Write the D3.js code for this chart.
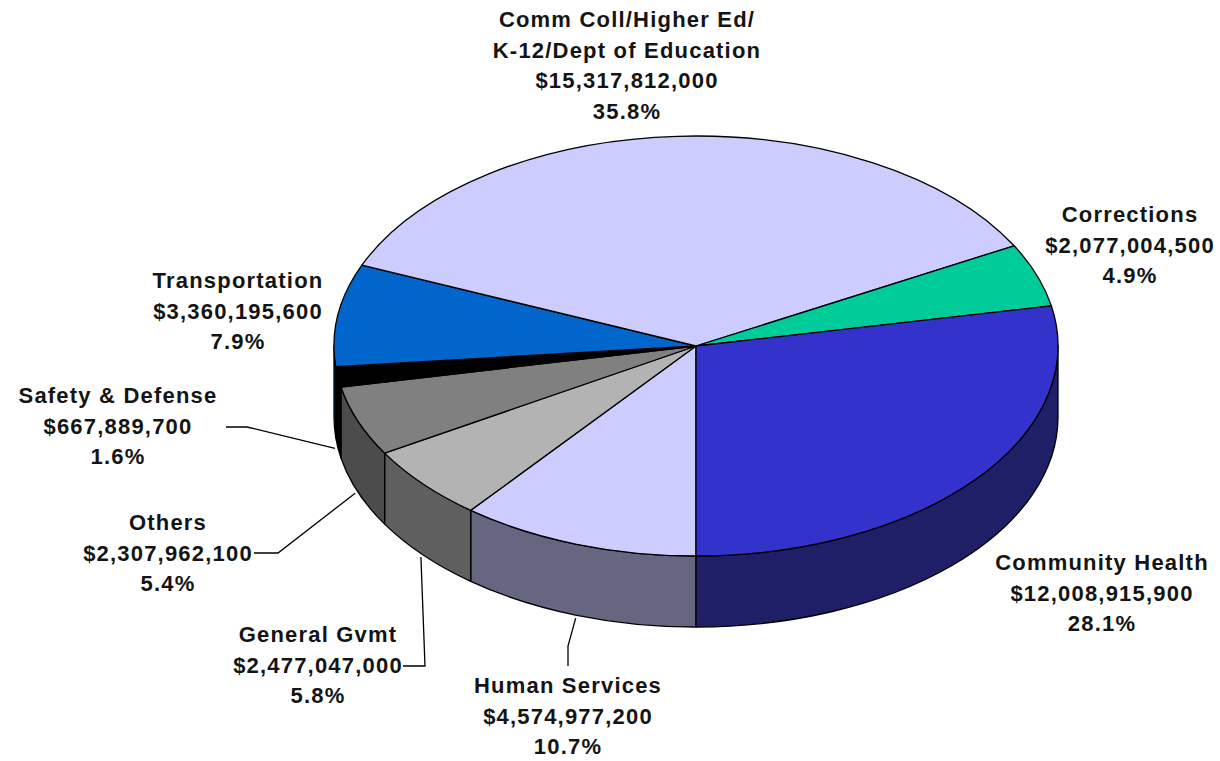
<!DOCTYPE html>
<html>
<head>
<meta charset="utf-8">
<script src="https://cdn.jsdelivr.net/npm/d3@7/dist/d3.min.js"></script>
<style>
  body { margin: 0; background: #ffffff; }
  text {
    font-family: "Liberation Sans", Arial, sans-serif;
    font-weight: bold;
    font-size: 22px;
    letter-spacing: 1.2px;
    fill: #141414;
  }
</style>
</head>
<body>
<div id="chart"></div>
<script>
// slices, going clockwise from 6 o'clock
const categories = [
  "Human Services",
  "General Gvmt",
  "Others",
  "Safety & Defense",
  "Transportation",
  "Comm Coll/Higher Ed/\nK-12/Dept of Education",
  "Corrections",
  "Community Health"
];
const amounts = [4574977200, 2477047000, 2307962100, 667889700, 3360195600, 15317812000, 2077004500, 12008915900];

const topColors = ["#ccccff", "#b3b3b3", "#808080", "#000000", "#0066cc", "#ccccff", "#00cc99", "#3333cc"];
const sideColors = ["#666680", "#5f5f5f", "#4c4c4c", "#000000", "#003366", "#666680", "#006650", "#1f1f68"];

// label placement (center x, first baseline) and leader line start points
const labelLayout = [
  { x: 568, y: 693, leader: [[568, 666], [568, 646]] },
  { x: 318, y: 642, leader: [[403, 666], [425, 666]] },
  { x: 168, y: 530, leader: [[254, 553], [278, 553]] },
  { x: 118, y: 403, leader: [[226, 427], [247, 427]] },
  { x: 238, y: 288, leader: null },
  { x: 627, y: 27, leader: null },
  { x: 1130, y: 222, leader: null },
  { x: 1102, y: 570, leader: null }
];

const width = 1220;
const height = 761;
const cx = 696;
const cy = 346;
const rx = 362;
const ry = 210;
const depth = 71;
const lineGap = 30.7;

const svg = d3.select("#chart").append("svg")
  .attr("width", width)
  .attr("height", height);

const total = d3.sum(amounts);
const fmtMoney = d3.format(",");
const fmtPct = d3.format(".1%");

const pie = d3.pie()
  .sort(null)
  .startAngle(Math.PI)
  .endAngle(3 * Math.PI);

const slices = pie(amounts);

// point on the top ellipse for an angle measured clockwise from 12 o'clock
function pt(a, dy) {
  return [cx + rx * Math.sin(a), cy - ry * Math.cos(a) + (dy || 0)];
}

function topPath(d) {
  const p0 = pt(d.startAngle);
  const p1 = pt(d.endAngle);
  const large = (d.endAngle - d.startAngle) > Math.PI ? 1 : 0;
  return "M" + cx + "," + cy + "L" + p0 + "A" + rx + "," + ry + " 0 " + large + " 1 " + p1 + "Z";
}

// front walls: only the parts facing the viewer (between 3 and 9 o'clock, lower half)
const windows = [[Math.PI / 2, 3 * Math.PI / 2], [5 * Math.PI / 2, 7 * Math.PI / 2]];
const walls = [];
slices.forEach(function (d, i) {
  windows.forEach(function (w) {
    const a0 = Math.max(d.startAngle, w[0]);
    const a1 = Math.min(d.endAngle, w[1]);
    if (a1 > a0) walls.push({ a0: a0, a1: a1, i: i });
  });
});

function wallPath(w) {
  const t0 = pt(w.a0), t1 = pt(w.a1);
  const b0 = pt(w.a0, depth), b1 = pt(w.a1, depth);
  return "M" + t0 + "A" + rx + "," + ry + " 0 0 1 " + t1 +
    "L" + b1 + "A" + rx + "," + ry + " 0 0 0 " + b0 + "Z";
}

svg.append("g")
  .selectAll("path")
  .data(walls)
  .enter()
  .append("path")
  .attr("d", wallPath)
  .attr("fill", function (w) { return sideColors[w.i]; })
  .attr("stroke", "#000")
  .attr("stroke-width", 1.3)
  .attr("stroke-linejoin", "round");

svg.append("g")
  .selectAll("path")
  .data(slices)
  .enter()
  .append("path")
  .attr("d", topPath)
  .attr("fill", function (d, i) { return topColors[i]; })
  .attr("stroke", "#000")
  .attr("stroke-width", 1.3)
  .attr("stroke-linejoin", "round");

// leader lines end on the lower rim at the middle of the slice
const leaderLine = d3.line();
svg.append("g")
  .selectAll("path")
  .data(slices.filter(function (d, i) { return labelLayout[i].leader; }))
  .enter()
  .append("path")
  .attr("d", function (d) {
    const mid = (d.startAngle + d.endAngle) / 2;
    const end = [cx + (rx + 3) * Math.sin(mid), cy - (ry + 3) * Math.cos(mid) + depth];
    return leaderLine(labelLayout[d.index].leader.concat([end]));
  })
  .attr("fill", "none")
  .attr("stroke", "#000")
  .attr("stroke-width", 1.3);

// labels
const labels = svg.append("g")
  .selectAll("text")
  .data(slices)
  .enter()
  .append("text")
  .attr("text-anchor", "middle")
  .attr("x", function (d, i) { return labelLayout[i].x; })
  .attr("y", function (d, i) { return labelLayout[i].y; });

labels.each(function (d, i) {
  const lines = categories[i].split("\n")
    .concat(["$" + fmtMoney(amounts[i]), fmtPct(amounts[i] / total)]);
  d3.select(this).selectAll("tspan")
    .data(lines)
    .enter()
    .append("tspan")
    .attr("x", labelLayout[i].x)
    .attr("dy", function (t, k) { return k === 0 ? 0 : lineGap; })
    .text(function (t) { return t; });
});
</script>
</body>
</html>
